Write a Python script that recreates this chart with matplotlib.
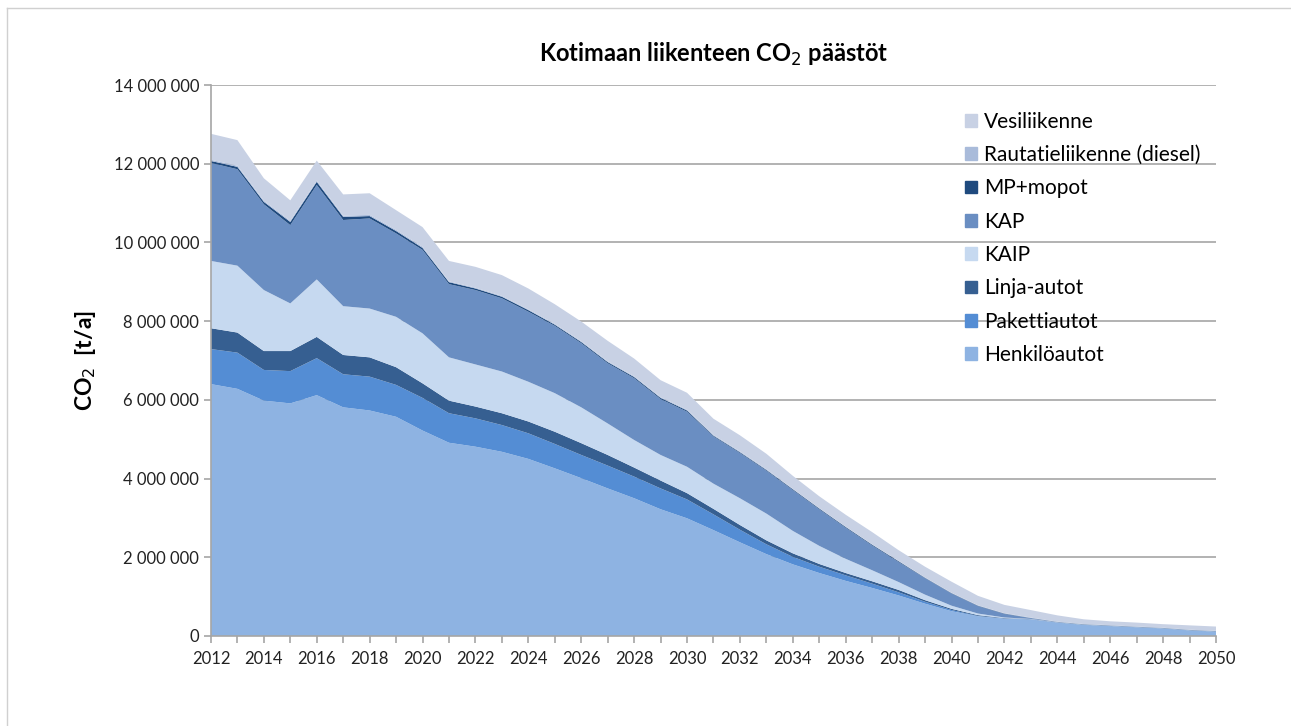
import matplotlib.pyplot as plt
import matplotlib.patches as mpatches
from matplotlib.ticker import FuncFormatter, MultipleLocator
from matplotlib.lines import Line2D

plt.rcParams['font.family'] = ['Lato', 'DejaVu Sans']

years = list(range(2012, 2051))

# layer thicknesses, million t/a
henkiloautot = [6.40, 6.28, 5.98, 5.91, 6.12, 5.81, 5.73, 5.57, 5.22, 4.91,
                4.81, 4.68, 4.50, 4.26, 4.01, 3.75, 3.50, 3.22, 2.99, 2.69,
                2.38, 2.08, 1.82, 1.60, 1.40, 1.22, 1.03, 0.82, 0.63, 0.50,
                0.44, 0.42, 0.34, 0.28, 0.25, 0.22, 0.19, 0.14, 0.11]
pakettiautot = [0.89, 0.92, 0.78, 0.82, 0.94, 0.84, 0.86, 0.81, 0.83, 0.75,
                0.72, 0.68, 0.65, 0.62, 0.59, 0.58, 0.55, 0.53, 0.48, 0.40,
                0.32, 0.25, 0.19, 0.16, 0.14, 0.11, 0.08, 0.05, 0.03, 0.01,
                0.005, 0.003, 0.003, 0.003, 0.002, 0.002, 0.002, 0.002, 0.002]
linja_autot = [0.53, 0.51, 0.48, 0.51, 0.54, 0.49, 0.49, 0.45, 0.37, 0.32,
               0.30, 0.30, 0.30, 0.31, 0.30, 0.27, 0.23, 0.20, 0.16, 0.14,
               0.12, 0.10, 0.09, 0.07, 0.06, 0.06, 0.06, 0.04, 0.03, 0.02,
               0.01, 0.005, 0.003, 0.003, 0.003, 0.002, 0.002, 0.002, 0.002]
kaip = [1.71, 1.70, 1.55, 1.21, 1.46, 1.24, 1.24, 1.28, 1.27, 1.10,
        1.07, 1.06, 1.01, 0.98, 0.91, 0.80, 0.70, 0.65, 0.67, 0.64,
        0.68, 0.68, 0.57, 0.46, 0.36, 0.28, 0.20, 0.14, 0.08, 0.04,
        0.015, 0.005, 0.003, 0.003, 0.003, 0.002, 0.002, 0.002, 0.002]
kap = [2.49, 2.45, 2.18, 1.99, 2.40, 2.19, 2.29, 2.12, 2.12, 1.86,
       1.89, 1.86, 1.78, 1.71, 1.63, 1.53, 1.57, 1.42, 1.40, 1.20,
       1.15, 1.09, 1.04, 0.93, 0.79, 0.63, 0.51, 0.42, 0.31, 0.19,
       0.09, 0.02, 0.005, 0.005, 0.005, 0.004, 0.004, 0.004, 0.004]
mp_mopot = [0.05, 0.06, 0.06, 0.08, 0.08, 0.08, 0.06, 0.06, 0.05, 0.05,
            0.04, 0.04, 0.04, 0.03, 0.03, 0.03, 0.03, 0.03, 0.03, 0.02,
            0.02, 0.02, 0.02, 0.02, 0.02, 0.02, 0.02, 0.01, 0.01, 0.01,
            0.01, 0.005, 0.005, 0.005, 0.005, 0.005, 0.005, 0.005, 0.005]
rautatie = [0.03, 0.03, 0.03, 0.03, 0.03, 0.03, 0.03, 0.03, 0.03, 0.02,
            0.02, 0.02, 0.02, 0.02, 0.02, 0.02, 0.02, 0.02, 0.02, 0.02,
            0.02, 0.02, 0.01, 0.01, 0.01, 0.01, 0.01, 0.01, 0.01, 0.01,
            0.01, 0.01, 0.005, 0.005, 0.005, 0.005, 0.005, 0.005, 0.005]
vesiliikenne = [0.66, 0.65, 0.57, 0.52, 0.51, 0.54, 0.55, 0.50, 0.50, 0.52,
                0.53, 0.53, 0.53, 0.50, 0.50, 0.52, 0.45, 0.43, 0.43, 0.41,
                0.41, 0.39, 0.33, 0.30, 0.30, 0.31, 0.27, 0.27, 0.28, 0.24,
                0.21, 0.19, 0.16, 0.12, 0.10, 0.10, 0.09, 0.11, 0.11]

labels = ['Henkilöautot', 'Pakettiautot', 'Linja-autot', 'KAIP', 'KAP',
          'MP+mopot', 'Rautatieliikenne (diesel)', 'Vesiliikenne']
series = [henkiloautot, pakettiautot, linja_autot, kaip, kap,
          mp_mopot, rautatie, vesiliikenne]
colors = ['#8EB3E2', '#548DD4', '#365F91', '#C6D9F0', '#6A8EC2',
          '#1F4A7E', '#A9BBDA', '#C8D1E4']

fig = plt.figure(figsize=(12.91, 7.26), dpi=100)
ax = fig.add_axes([0.1634, 0.124, 0.7785, 0.7589])

ax.stackplot(years, [[v * 1e6 for v in s] for s in series],
             colors=colors, labels=labels, linewidth=0, zorder=3)

ax.set_xlim(2012, 2050)
ax.set_ylim(0, 14e6)
ax.yaxis.set_major_locator(MultipleLocator(2e6))
ax.yaxis.set_major_formatter(FuncFormatter(lambda v, p: f'{int(v):,}'.replace(',', ' ')))
ax.xaxis.set_major_locator(MultipleLocator(2))
ax.xaxis.set_minor_locator(MultipleLocator(1))
ax.grid(axis='y', color='#A6A6A6', linewidth=1.2, zorder=1)
ax.set_axisbelow(True)

for s in ['top', 'right']:
    ax.spines[s].set_visible(False)
for s in ['left', 'bottom']:
    ax.spines[s].set_color('#A6A6A6')
    ax.spines[s].set_linewidth(1.2)
    ax.spines[s].set_zorder(4)
ax.tick_params(axis='both', which='both', color='#A6A6A6', length=5, width=1.2,
               labelsize=12, labelcolor='#222222')
ax.tick_params(axis='x', which='major', pad=6)

ax.set_ylabel('CO$_2$  [t/a]', fontsize=16.5, fontweight='bold', labelpad=11)
ax.set_title('Kotimaan liikenteen CO$_2$ päästöt', fontsize=17,
             fontweight='bold', pad=17)

handles = [mpatches.Patch(color=c, label=l) for c, l in zip(colors, labels)][::-1]
ax.legend(handles=handles, loc='upper left', bbox_to_anchor=(0.733, 0.872),
          bbox_transform=fig.transFigure, frameon=False, fontsize=15,
          handlelength=0.58, handleheight=0.58, handletextpad=0.35,
          labelspacing=0.64)

# light frame on the left and top edge
fig.add_artist(Line2D([7 / 1291, 7 / 1291], [0, 1 - 8 / 726], color='#D0D0D0', lw=1))
fig.add_artist(Line2D([7 / 1291, 1], [1 - 8 / 726, 1 - 8 / 726], color='#D0D0D0', lw=1))

fig.savefig('out.png', dpi=100)
